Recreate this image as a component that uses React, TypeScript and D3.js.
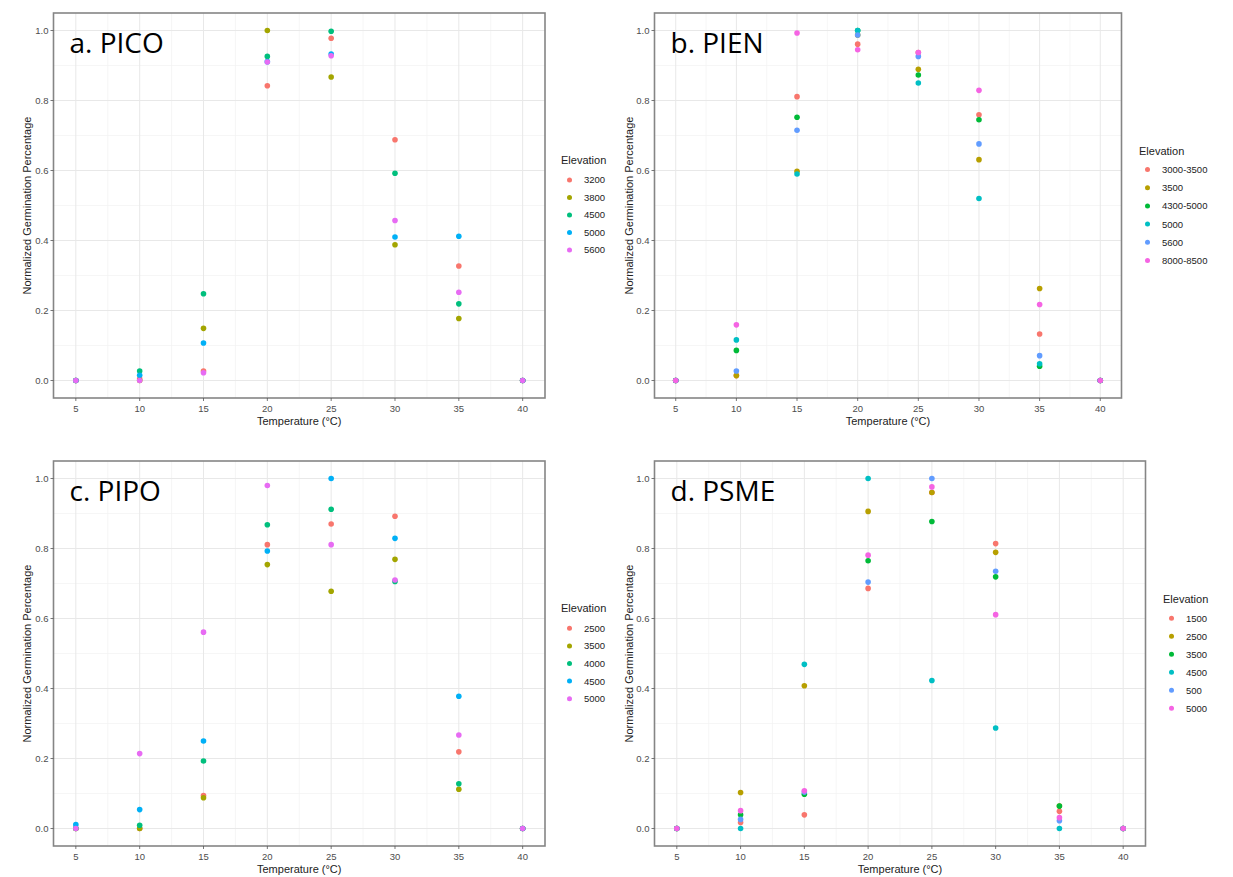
import React from "react";
import * as d3 from "d3";

// ---------- data ----------
const temperatures = [5, 10, 15, 20, 25, 30, 35, 40];
const xTicks = [5, 10, 15, 20, 25, 30, 35, 40];
const yTicks = [0, 0.2, 0.4, 0.6, 0.8, 1.0];

const palette5 = ["#F8766D", "#A3A500", "#00BF7D", "#00B0F6", "#E76BF3"];
const palette6 = ["#F8766D", "#B79F00", "#00BA38", "#00BFC4", "#619CFF", "#F564E3"];

// a. PICO
const picoLevels = ["3200", "3800", "4500", "5000", "5600"];
const pico3200 = [0, 0.005, 0.027, 0.842, 0.978, 0.688, 0.327, 0];
const pico3800 = [0, 0.0, 0.149, 1.0, 0.867, 0.388, 0.177, 0];
const pico4500 = [0, 0.027, 0.248, 0.926, 0.998, 0.592, 0.219, 0];
const pico5000 = [0, 0.015, 0.107, 0.911, 0.933, 0.41, 0.412, 0];
const pico5600 = [0, 0.0, 0.022, 0.91, 0.928, 0.457, 0.252, 0];

// b. PIEN
const pienLevels = ["3000-3500", "3500", "4300-5000", "5000", "5600", "8000-8500"];
const pien3000_3500 = [0, 0.014, 0.811, 0.961, 0.937, 0.759, 0.133, 0];
const pien3500 = [0, 0.014, 0.598, 0.987, 0.889, 0.631, 0.263, 0];
const pien4300_5000 = [0, 0.086, 0.752, 1.0, 0.873, 0.745, 0.041, 0];
const pien5000 = [0, 0.116, 0.59, 1.0, 0.85, 0.52, 0.048, 0];
const pien5600 = [0, 0.027, 0.715, 0.987, 0.926, 0.676, 0.071, 0];
const pien8000_8500 = [0, 0.159, 0.993, 0.945, 0.937, 0.829, 0.217, 0];

// c. PIPO
const pipoLevels = ["2500", "3500", "4000", "4500", "5000"];
const pipo2500 = [0, 0, 0.094, 0.811, 0.87, 0.892, 0.219, 0];
const pipo3500 = [0, 0, 0.088, 0.754, 0.678, 0.769, 0.112, 0];
const pipo4000 = [0, 0.0095, 0.193, 0.868, 0.912, 0.706, 0.128, 0];
const pipo4500 = [0.011, 0.054, 0.25, 0.793, 1.0, 0.829, 0.378, 0];
const pipo5000 = [0, 0.214, 0.561, 0.98, 0.811, 0.71, 0.267, 0];

// d. PSME
const psmeLevels = ["1500", "2500", "3500", "4500", "500", "5000"];
const psme1500 = [0, 0.017, 0.039, 0.686, 0.96, 0.814, 0.049, 0];
const psme2500 = [0, 0.103, 0.408, 0.906, 0.96, 0.789, 0.064, 0];
const psme3500 = [0, 0.039, 0.098, 0.765, 0.877, 0.719, 0.064, 0];
const psme4500 = [0, 0, 0.469, 1.0, 0.423, 0.287, 0, 0];
const psme500 = [0, 0.026, 0.104, 0.704, 1.0, 0.735, 0.022, 0];
const psme5000 = [0, 0.051, 0.108, 0.781, 0.976, 0.611, 0.031, 0];

// ---------- layout ----------
interface PanelCfg {
  label: string;
  levels: string[];
  series: number[][];
  colors: string[];
  x0: number; x1: number; y0: number; y1: number;
  yTitleX: number;
  legX: number; legTitleY: number; legItemY: number; legStep: number;
}

const panels: PanelCfg[] = [
  {
    label: "a. PICO", levels: picoLevels,
    series: [pico3200, pico3800, pico4500, pico5000, pico5600], colors: palette5,
    x0: 53.5, x1: 545, y0: 13, y1: 398, yTitleX: 27,
    legX: 561, legTitleY: 160, legItemY: 180, legStep: 17.5,
  },
  {
    label: "b. PIEN", levels: pienLevels,
    series: [pien3000_3500, pien3500, pien4300_5000, pien5000, pien5600, pien8000_8500], colors: palette6,
    x0: 654.5, x1: 1121.5, y0: 13, y1: 398, yTitleX: 628.5,
    legX: 1139, legTitleY: 151, legItemY: 169.5, legStep: 18.2,
  },
  {
    label: "c. PIPO", levels: pipoLevels,
    series: [pipo2500, pipo3500, pipo4000, pipo4500, pipo5000], colors: palette5,
    x0: 53.5, x1: 545, y0: 461, y1: 846, yTitleX: 27,
    legX: 561, legTitleY: 608, legItemY: 628.3, legStep: 17.6,
  },
  {
    label: "d. PSME", levels: psmeLevels,
    series: [psme1500, psme2500, psme3500, psme4500, psme500, psme5000], colors: palette6,
    x0: 654.5, x1: 1145.5, y0: 461, y1: 846, yTitleX: 628.5,
    legX: 1163, legTitleY: 599, legItemY: 618.3, legStep: 18,
  },
];

const FONT = "'Liberation Sans', Arial, sans-serif";

function Panel({ p }: { p: PanelCfg }) {
  const xs = d3.scaleLinear().domain([5 - 1.75, 40 + 1.75]).range([p.x0, p.x1]);
  const ys = d3.scaleLinear().domain([-0.05, 1.05]).range([p.y1, p.y0]);
  const xMinor = d3.range(7.5, 40, 5);
  const yMinor = [0.1, 0.3, 0.5, 0.7, 0.9];
  const cx = (p.x0 + p.x1) / 2;
  const cy = (p.y0 + p.y1) / 2;
  return (
    <g>
      <rect x={p.x0} y={p.y0} width={p.x1 - p.x0} height={p.y1 - p.y0} fill="#fff" />
      {xMinor.map((v) => (
        <line key={"xm" + v} x1={xs(v)} x2={xs(v)} y1={p.y0} y2={p.y1} stroke="#f2f2f2" strokeWidth={0.7} />
      ))}
      {yMinor.map((v) => (
        <line key={"ym" + v} x1={p.x0} x2={p.x1} y1={ys(v)} y2={ys(v)} stroke="#f2f2f2" strokeWidth={0.7} />
      ))}
      {xTicks.map((v) => (
        <line key={"xg" + v} x1={xs(v)} x2={xs(v)} y1={p.y0} y2={p.y1} stroke="#e8e8e8" strokeWidth={1} />
      ))}
      {yTicks.map((v) => (
        <line key={"yg" + v} x1={p.x0} x2={p.x1} y1={ys(v)} y2={ys(v)} stroke="#e8e8e8" strokeWidth={1} />
      ))}
      {p.series.map((vals, si) =>
        vals.map((v, i) => (
          <circle key={si + "-" + i} cx={xs(temperatures[i])} cy={ys(v)} r={2.8} fill={p.colors[si]} />
        ))
      )}
      <rect x={p.x0} y={p.y0} width={p.x1 - p.x0} height={p.y1 - p.y0} fill="none" stroke="#858585" strokeWidth={1.6} />
      {xTicks.map((v) => (
        <g key={"xt" + v}>
          <line x1={xs(v)} x2={xs(v)} y1={p.y1} y2={p.y1 + 3} stroke="#555" strokeWidth={0.8} />
          <text x={xs(v)} y={p.y1 + 14} textAnchor="middle" fontSize={9.5} fill="#4d4d4d" fontFamily={FONT}>
            {v}
          </text>
        </g>
      ))}
      {yTicks.map((v) => (
        <g key={"yt" + v}>
          <line x1={p.x0 - 3} x2={p.x0} y1={ys(v)} y2={ys(v)} stroke="#555" strokeWidth={0.8} />
          <text x={p.x0 - 5} y={ys(v) + 3.4} textAnchor="end" fontSize={9.5} fill="#4d4d4d" fontFamily={FONT}>
            {d3.format(".1f")(v)}
          </text>
        </g>
      ))}
      <text x={cx} y={p.y1 + 27} textAnchor="middle" fontSize={11} fill="#222" fontFamily={FONT}>
        Temperature (°C)
      </text>
      <text
        transform={`translate(${p.yTitleX},${cy}) rotate(-90)`}
        textAnchor="middle"
        dominantBaseline="central"
        fontSize={11}
        fill="#222"
        fontFamily={FONT}
      >
        Normalized Germination Percentage
      </text>
      <text x={p.x0 + 16} y={p.y0 + 40} fontSize={28} fill="#000" fontFamily="'Open Sans', sans-serif">
        {p.label}
      </text>
      <text x={p.legX} y={p.legTitleY + 4} fontSize={11} fill="#222" fontFamily={FONT}>
        Elevation
      </text>
      {p.levels.map((lv, i) => (
        <g key={"lg" + lv}>
          <circle cx={p.legX + 8.5} cy={p.legItemY + i * p.legStep} r={2.5} fill={p.colors[i]} />
          <text x={p.legX + 23} y={p.legItemY + i * p.legStep + 3.4} fontSize={9.5} fill="#222" fontFamily={FONT}>
            {lv}
          </text>
        </g>
      ))}
    </g>
  );
}

export default function App() {
  return (
    <svg width={1233} height={877} style={{ position: "absolute", left: 0, top: 0, background: "#fff" }}>
      <rect width={1233} height={877} fill="#fff" />
      {panels.map((p) => (
        <Panel key={p.label} p={p} />
      ))}
    </svg>
  );
}
